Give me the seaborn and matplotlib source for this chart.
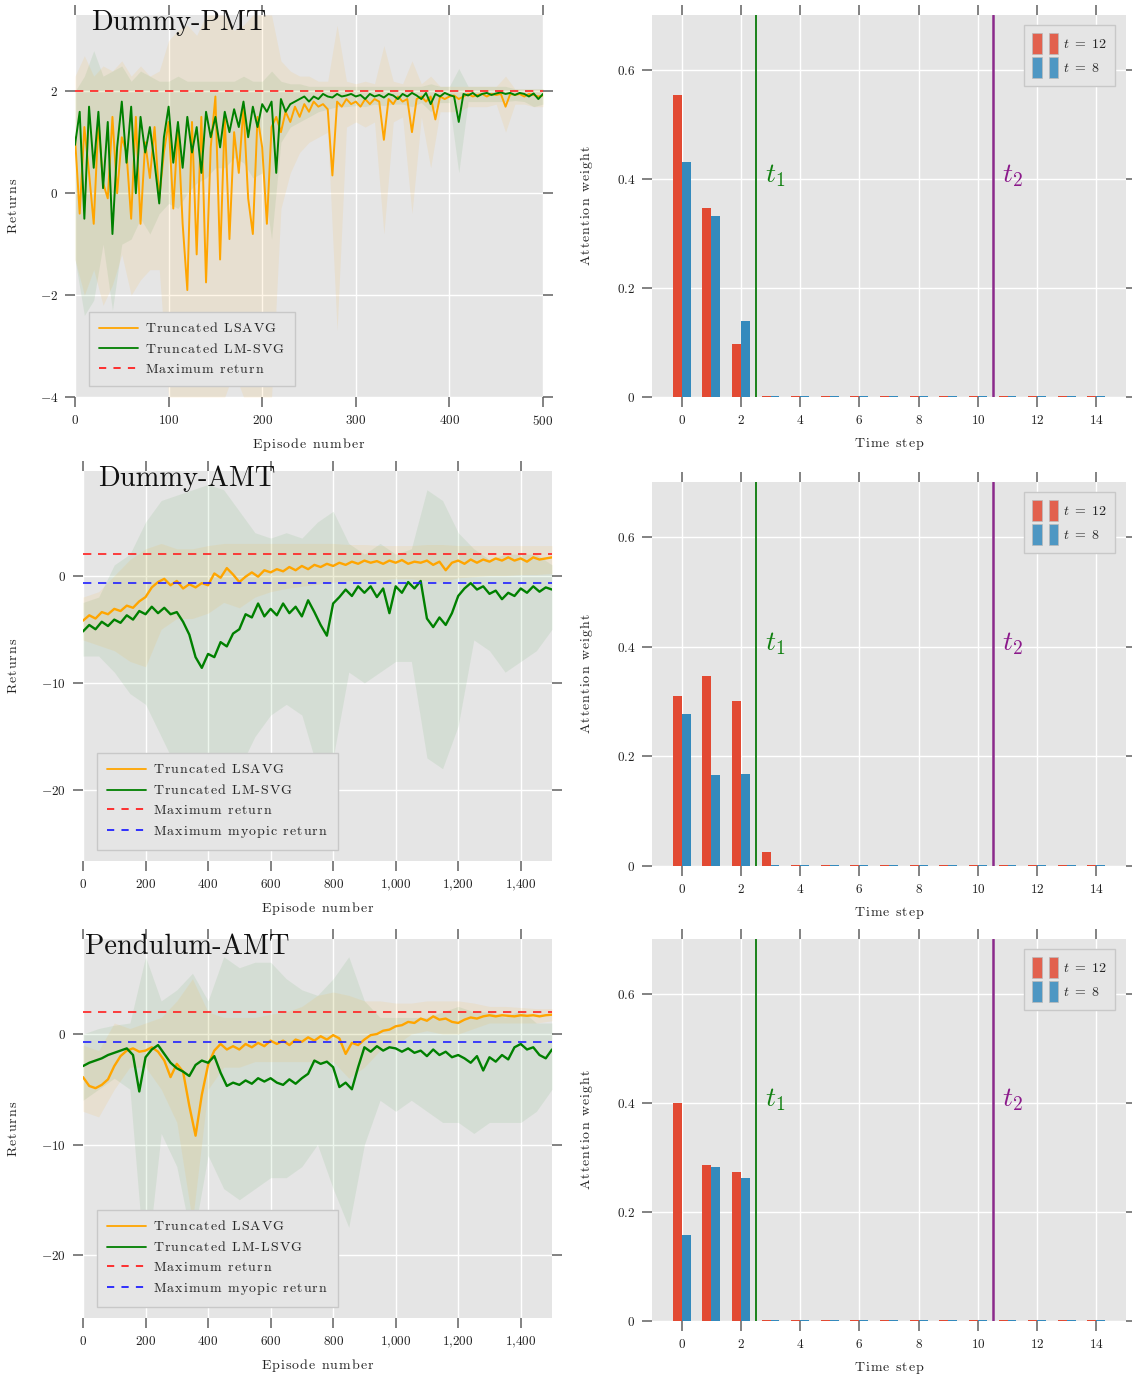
import numpy as np
import pandas as pd
import matplotlib
matplotlib.use("Agg")
import matplotlib.pyplot as plt
import seaborn as sns
from matplotlib.ticker import FuncFormatter, FixedLocator
from matplotlib.lines import Line2D
from matplotlib.patches import Rectangle
from matplotlib.legend_handler import HandlerTuple

# ---------------- data ----------------
# Dummy-PMT (episodes 0..500, mean every 5 episodes, band every 10)
pmt_step, pmt_band_step = 5, 10
pmt_lsavg = [1.1, -0.4, 1.3, 0.4, -0.6, 1.4, 0.2, -0.1, 1.5, 0.0,
             1.1, 0.8, -0.5, 1.5, -0.6, 1.0, 0.3, 1.3, -0.1, 0.8,
             1.4, -0.3, 1.3, -0.6, -1.9, 1.4, -1.2, 1.5, -1.75, 0.9,
             1.9, -1.3, 1.5, -0.9, 1.2, 0.4, 1.7, -0.1, -0.8, 1.5,
             0.9, -0.6, 1.3, 1.5, 1.2, 1.6, 1.4, 1.7, 1.5, 1.75,
             1.6, 1.8, 1.7, 1.75, 1.65, 0.35, 1.8, 1.7, 1.85, 1.75,
             1.8, 1.7, 1.85, 1.75, 1.85, 1.8, 1.05, 1.85, 1.75, 1.9,
             1.8, 1.85, 1.2, 1.85, 1.9, 1.8, 1.9, 1.45, 1.9, 1.85,
             1.9, 1.92, 1.85, 1.9, 1.95, 1.9, 1.93, 1.95, 1.9, 1.95,
             1.93, 1.95, 1.7, 1.95, 1.93, 1.95, 1.9, 1.95, 1.93, 1.9,
             1.92]
pmt_lmsvg = [0.95, 1.6, -0.5, 1.7, 0.5, 1.6, 0.1, 1.4, -0.8, 0.9,
             1.8, 0.6, 1.7, 0.0, 1.5, 0.8, 1.3, 0.6, -0.2, 1.1,
             1.7, 0.6, 1.4, 0.5, 1.5, 0.8, 1.3, 0.4, 1.6, 1.1,
             1.5, 0.9, 1.6, 1.2, 1.65, 1.3, 1.8, 1.1, 1.7, 1.3,
             1.75, 1.6, 1.8, 0.4, 1.85, 1.6, 1.75, 1.8, 1.85, 1.9,
             1.8, 1.9, 1.85, 1.95, 1.9, 1.88, 1.95, 1.9, 1.92, 1.95,
             1.9, 1.93, 1.85, 1.95, 1.9, 1.93, 1.88, 1.95, 1.92, 1.85,
             1.95, 1.9, 1.97, 1.92, 1.85, 1.97, 1.75, 1.95, 1.9, 1.97,
             1.93, 1.9, 1.4, 1.95, 1.92, 1.97, 1.9, 1.95, 1.97, 1.93,
             1.96, 1.98, 1.95, 1.97, 1.93, 1.97, 1.95, 1.9, 1.96, 1.85,
             1.95]
pmt_lsavg_lo = [-1.3, -2.0, -1.5, -2.2, -1.8, -1.2, -2.0, -1.7, -1.5, -1.5,
                -4, -4, -4, -4, -4, -4, -4, -3.5, -4, -4,
                -4, -4, -0.3, 0.4, 0.8, 1.0, 1.1, 1.2, -2.7, 1.3,
                1.4, 1.3, 1.4, -0.8, 1.4, 1.5, -0.4, 1.5, 0.5, 1.6,
                1.6, 1.6, 1.7, 1.7, 1.7, 1.75, 1.2, 1.75, 1.75, 1.7,
                1.7]
pmt_lsavg_hi = [2.3, 2.7, 2.3, 2.5, 2.4, 2.6, 2.3, 2.5, 2.3, 2.4,
                3.0, 3.2, 3.3, 3.1, 3.5, 3.5, 3.5, 3.2, 3.3, 3.5,
                3.5, 3.5, 2.6, 2.4, 2.3, 2.3, 2.2, 2.2, 3.3, 2.2,
                2.15, 2.2, 2.15, 2.9, 2.2, 2.15, 2.6, 2.15, 2.3, 2.1,
                2.1, 2.1, 2.1, 2.1, 2.1, 2.1, 2.3, 2.05, 2.05, 2.05,
                2.05]
pmt_lmsvg_lo = [-1.3, -2.4, -2.1, -1.0, -2.3, -1.0, -0.9, -0.5, -0.8, -0.4,
                -0.2, -0.3, 0.0, 0.2, 0.3, 0.5, 0.5, 0.7, 0.6, 0.3,
                0.4, -0.9, 1.0, 1.3, 1.4, 1.5, 1.6, 1.65, 1.7, 1.7,
                1.72, 1.7, 1.75, 1.72, 1.75, 1.75, 1.7, 1.78, 1.6, 1.78,
                1.78, 0.4, 1.8, 1.8, 1.8, 1.8, 1.8, 1.82, 1.8, 1.7,
                1.75]
pmt_lmsvg_hi = [2.0, 2.3, 2.8, 2.3, 2.4, 2.5, 2.2, 2.4, 2.3, 2.2,
                2.2, 2.3, 2.2, 2.2, 2.2, 2.2, 2.2, 2.2, 2.3, 2.2,
                2.2, 2.4, 2.2, 2.15, 2.15, 2.1, 2.1, 2.1, 2.1, 2.1,
                2.1, 2.1, 2.1, 2.1, 2.1, 2.1, 2.1, 2.1, 2.15, 2.1,
                2.1, 2.45, 2.1, 2.1, 2.1, 2.1, 2.1, 2.05, 2.05, 2.05,
                2.05]

# Dummy-AMT (episodes 0..1500, mean every 20, band every 50)
amt_step, amt_band_step = 20, 50
damt_lsavg = [-4.2, -3.7, -4.0, -3.4, -3.6, -3.1, -3.3, -2.8, -3.0, -2.4,
              -2.0, -1.1, -0.6, -0.3, -0.9, -0.5, -1.2, -0.8, -1.1, -0.7,
              -0.9, 0.2, -0.2, 0.7, 0.1, -0.6, -0.1, 0.3, -0.1, 0.5,
              0.3, 0.6, 0.4, 0.8, 0.5, 0.9, 0.6, 1.0, 0.8, 1.1,
              0.9, 1.2, 1.0, 1.3, 1.1, 1.4, 1.2, 1.35, 1.1, 1.4,
              1.2, 1.45, 1.1, 1.3, 1.2, 1.4, 1.0, 1.3, 0.5, 1.2,
              1.4, 1.1, 1.5, 1.2, 1.5, 1.3, 1.6, 1.4, 1.7, 1.4,
              1.6, 1.3, 1.7, 1.5, 1.6, 1.7]
damt_lmsvg = [-5.2, -4.6, -5.0, -4.3, -4.7, -4.1, -4.4, -3.7, -4.1, -3.3,
              -3.6, -2.9, -3.5, -3.0, -3.6, -3.4, -4.3, -5.5, -7.6, -8.6,
              -7.3, -7.6, -6.2, -6.6, -5.4, -5.0, -3.6, -3.9, -2.6, -3.8,
              -3.1, -3.7, -2.6, -3.5, -2.9, -3.8, -2.3, -3.4, -4.6, -5.6,
              -2.6, -2.0, -1.3, -1.9, -1.0, -1.6, -1.0, -2.0, -1.2, -3.5,
              -1.0, -1.6, -0.6, -1.2, -0.5, -4.0, -4.8, -3.9, -4.6, -3.5,
              -1.9, -1.2, -0.7, -1.3, -1.0, -1.7, -1.4, -2.2, -1.6, -1.9,
              -1.2, -1.6, -1.0, -1.5, -1.1, -1.3]
damt_lsavg_lo = [-6.0, -6.5, -7.0, -8.0, -8.5, -5.0, -4.0, -4.0, -3.5, -2.5,
                 -3.0, -2.0, -1.5, -1.2, -1.0, -0.8, -0.6, -0.5, -0.4, -0.4,
                 -0.3, -0.3, -0.5, -0.6, -0.2, -0.1, 0.0, 0.0, 0.1, 0.1, 0.2]
damt_lsavg_hi = [-2.0, -1.5, 0.0, 1.5, 2.5, 3.0, 2.5, 2.5, 2.8, 3.0,
                 3.0, 3.0, 3.0, 3.0, 3.0, 3.0, 3.0, 2.9, 2.9, 2.8,
                 2.8, 2.8, 2.9, 2.9, 2.8, 2.8, 2.8, 2.8, 2.8, 2.8, 2.8]
damt_lmsvg_lo = [-7.5, -7.5, -9.0, -11.0, -12.0, -15.0, -18.0, -24.0, -23.0, -20.0,
                 -18.0, -15.0, -13.0, -12.0, -13.0, -18.0, -17.0, -9.0, -10.0, -9.0,
                 -8.0, -8.0, -17.0, -18.0, -14.0, -6.0, -7.0, -9.0, -8.0, -7.0, -5.0]
damt_lmsvg_hi = [-2.5, -2.0, 1.0, 2.0, 5.0, 7.0, 7.5, 8.0, 8.5, 8.0,
                 6.0, 4.0, 3.5, 4.0, 3.5, 5.0, 6.0, 3.0, 2.0, 3.0,
                 2.0, 2.5, 8.0, 7.0, 4.0, 2.5, 1.5, 2.0, 2.0, 2.0, 1.0]

# Pendulum-AMT
pamt_lsavg = [-3.9, -4.7, -4.9, -4.6, -4.1, -2.9, -2.0, -1.5, -1.3, -1.6,
              -1.5, -1.2, -1.6, -2.4, -3.9, -2.7, -3.4, -6.5, -9.2, -5.5,
              -2.8, -1.5, -0.9, -1.4, -1.1, -1.4, -0.9, -1.2, -0.8, -1.1,
              -0.6, -0.9, -0.6, -1.0, -0.5, -0.7, -0.3, -0.6, -0.2, -0.5,
              -0.1, -0.4, -1.8, -0.8, -1.0, -0.5, -0.1, 0.0, 0.3, 0.4,
              0.7, 0.8, 1.1, 1.0, 1.4, 1.2, 1.6, 1.3, 1.4, 1.1,
              1.0, 1.3, 1.5, 1.4, 1.6, 1.7, 1.6, 1.7, 1.65, 1.6,
              1.7, 1.65, 1.7, 1.6, 1.7, 1.75]
pamt_lmlsvg = [-2.9, -2.6, -2.4, -2.2, -1.9, -1.7, -1.5, -1.3, -1.9, -5.2,
               -2.1, -1.4, -1.0, -1.8, -2.6, -3.1, -3.4, -3.8, -2.8, -2.4,
               -2.6, -2.0, -3.5, -4.7, -4.4, -4.6, -4.2, -4.5, -4.0, -4.3,
               -4.0, -4.4, -4.6, -4.1, -4.5, -4.0, -3.6, -2.4, -2.7, -2.5,
               -3.0, -4.8, -4.4, -5.0, -3.0, -1.2, -1.6, -1.1, -1.5, -1.2,
               -1.3, -1.6, -1.3, -1.7, -1.5, -2.0, -1.4, -1.9, -1.6, -2.1,
               -1.9, -2.2, -2.6, -2.0, -3.3, -2.1, -2.5, -1.9, -2.3, -1.2,
               -0.9, -1.4, -1.2, -1.9, -2.2, -1.4]
pamt_lsavg_lo = [-7, -7.5, -5, -3, -3, -5, -8, -17, -5, -3,
                 -3, -2.5, -2.5, -2.5, -2.5, -2.5, -2.5, -4, -3, -1.5,
                 -1, 0, 0.3, 0, 0, 0.5, 1, 1, 1, 1, 1.2]
pamt_lsavg_hi = [-1, -1.5, 1, 0.5, 1, 1.5, 3, 5, 2, 1.5,
                 1.5, 1.5, 1.8, 2, 2.5, 3.5, 3.8, 3.5, 3, 3,
                 2.8, 2.8, 3, 3, 3, 2.8, 2.5, 2.5, 2.4, 2.3, 2.3]
pamt_lmlsvg_lo = [-6, -5, -4, -5, -22, -9, -12, -19, -11, -14,
                  -15, -14, -13, -13, -12, -10, -14, -17.5, -10, -6,
                  -7, -6, -7, -8, -8, -9, -8, -8, -8, -7, -5]
pamt_lmlsvg_hi = [0, 0.5, 0.8, 1, 7, 3, 4, 5.5, 3, 7,
                  6, 6.5, 6.5, 5, 4, 3.5, 5, 7, 3, 1.5,
                  1.5, 1.5, 1.5, 2, 2.5, 2, 2, 1.5, 2.2, 1, 1]

max_return = 2.0
max_myopic_return = -0.68

# attention weights (time steps 0..14)
time_steps = list(range(15))
att_pmt_t12 = [0.553, 0.346, 0.098] + [0.002] * 12
att_pmt_t8 = [0.430, 0.332, 0.140] + [0.002] * 12
att_damt_t12 = [0.309, 0.346, 0.300, 0.025] + [0.002] * 11
att_damt_t8 = [0.277, 0.165, 0.167] + [0.002] * 12
att_pamt_t12 = [0.399, 0.286, 0.273] + [0.002] * 12
att_pamt_t8 = [0.158, 0.283, 0.262] + [0.002] * 12
t1_pos, t2_pos = 2.5, 10.5

# ---------------- style ----------------
sns.set_theme(style="darkgrid", rc={
    "axes.facecolor": "#e5e5e5",
    "grid.color": "white",
    "grid.linewidth": 1.0,
    "axes.edgecolor": "none",
})
plt.rcParams["font.family"] = ["cmr10", "DejaVu Serif"]
plt.rcParams["mathtext.fontset"] = "cm"
plt.rcParams["axes.unicode_minus"] = False
plt.rcParams["axes.formatter.use_mathtext"] = True

ORANGE, GREEN = "#FFA500", "#008000"
RED_BAR, BLUE_BAR = "#E24A33", "#348ABD"
W, H = 1132, 1378
LABEL_FS = 10
LEG_FS = 10


def box(x0, y0, x1, y1):
    return [x0 / W, 1 - y1 / H, (x1 - x0) / W, (y1 - y0) / H]


def spaced(s, gap=0.09):
    sep = r"\hspace{%g}" % gap

    def letter(c):
        return r"\text{-}" if c == "-" else c
    words = [sep.join(letter(c) for c in w) for w in s.split(" ")]
    return r"$\mathrm{" + (sep + r"\ " + sep).join(words) + "}$"


def tickfmt(v, pos):
    if abs(v - round(v)) < 1e-9:
        s = f"{int(round(v)):,}".replace(",", "{,}")
    else:
        s = f"{v:g}"
    return f"${s}$"


def style_axes(ax):
    ax.tick_params(which="both", direction="out", length=7, width=1.1,
                   color="#606060", top=True, right=True, bottom=True, left=True,
                   labeltop=False, labelright=False, labelsize=9.5,
                   labelcolor="#222222", pad=5)
    ax.xaxis.set_major_formatter(FuncFormatter(tickfmt))
    ax.yaxis.set_major_formatter(FuncFormatter(tickfmt))
    for s in ax.spines.values():
        s.set_visible(False)
    ax.grid(True, color="white", linewidth=1.0)
    ax.set_axisbelow(True)


fig = plt.figure(figsize=(W / 100, H / 100), dpi=100)

left_specs = [
    dict(rect=box(75, 15, 543, 397), title="Dummy-PMT", title_dx=16,
         mean_step=pmt_step, band_step=pmt_band_step,
         ls=pmt_lsavg, lm=pmt_lmsvg, ls_lo=pmt_lsavg_lo, ls_hi=pmt_lsavg_hi,
         lm_lo=pmt_lmsvg_lo, lm_hi=pmt_lmsvg_hi, lm_label="Truncated LM-SVG",
         xlim=(0, 500), ylim=(-4, 3.5), xticks=range(0, 501, 100),
         yticks=[-4, -2, 0, 2], myopic=False, lw=1.4),
    dict(rect=box(83, 471, 552, 861), title="Dummy-AMT", title_dx=15,
         mean_step=amt_step, band_step=amt_band_step,
         ls=damt_lsavg, lm=damt_lmsvg, ls_lo=damt_lsavg_lo, ls_hi=damt_lsavg_hi,
         lm_lo=damt_lmsvg_lo, lm_hi=damt_lmsvg_hi, lm_label="Truncated LM-SVG",
         xlim=(0, 1500), ylim=(-26.6, 9.75), xticks=range(0, 1401, 200),
         yticks=[-20, -10, 0], myopic=True, lw=1.7),
    dict(rect=box(83, 939, 552, 1318), title="Pendulum-AMT", title_dx=2,
         mean_step=amt_step, band_step=amt_band_step,
         ls=pamt_lsavg, lm=pamt_lmlsvg, ls_lo=pamt_lsavg_lo, ls_hi=pamt_lsavg_hi,
         lm_lo=pamt_lmlsvg_lo, lm_hi=pamt_lmlsvg_hi, lm_label="Truncated LM-LSVG",
         xlim=(0, 1500), ylim=(-25.7, 8.6), xticks=range(0, 1401, 200),
         yticks=[-20, -10, 0], myopic=True, lw=1.7),
]

for sp in left_specs:
    ax = fig.add_axes(sp["rect"])
    style_axes(ax)
    wpx = sp["rect"][2] * W
    hpx = sp["rect"][3] * H
    xb = np.arange(len(sp["ls_lo"])) * sp["band_step"]
    ax.fill_between(xb, sp["lm_lo"], sp["lm_hi"], color=GREEN, alpha=0.07, lw=0)
    ax.fill_between(xb, sp["ls_lo"], sp["ls_hi"], color=ORANGE, alpha=0.09, lw=0)
    xm = np.arange(len(sp["ls"])) * sp["mean_step"]
    sns.lineplot(x=xm, y=sp["ls"], ax=ax, color=ORANGE, linewidth=sp["lw"])
    xm2 = np.arange(len(sp["lm"])) * sp["mean_step"]
    sns.lineplot(x=xm2, y=sp["lm"], ax=ax, color=GREEN, linewidth=sp["lw"])
    ax.axhline(max_return, color="#FF2020", ls=(0, (5, 4)), lw=1.2)
    handles = [Line2D([], [], color=ORANGE, lw=1.3),
               Line2D([], [], color=GREEN, lw=1.3),
               Line2D([], [], color="#FF2020", lw=1.3, ls=(0, (4, 4)))]
    labels = [spaced("Truncated LSAVG"), spaced(sp["lm_label"]),
              spaced("Maximum return")]
    if sp["myopic"]:
        ax.axhline(max_myopic_return, color="#2020FF", ls=(0, (5, 4)), lw=1.2)
        handles.append(Line2D([], [], color="#2020FF", lw=1.3, ls=(0, (4, 4))))
        labels.append(spaced("Maximum myopic return"))
    ax.set_xlim(*sp["xlim"])
    ax.set_ylim(*sp["ylim"])
    ax.xaxis.set_major_locator(FixedLocator(list(sp["xticks"])))
    ax.yaxis.set_major_locator(FixedLocator(sp["yticks"]))
    ax.set_xlabel(spaced("Episode number"), fontsize=LABEL_FS, color="#222222")
    ax.set_ylabel(spaced("Returns"), fontsize=LABEL_FS, color="#222222")
    ax.xaxis.set_label_coords(0.5, -39 / hpx)
    ax.yaxis.set_label_coords(-(sp["rect"][0] * W - 20) / wpx, 0.5)
    ax.text(sp["title_dx"] / wpx, 1 + 5 / hpx, sp["title"], transform=ax.transAxes,
            fontsize=20.5, ha="left", va="top", color="#111111", family="cmr10")
    leg = ax.legend(handles, labels, loc="lower left",
                    bbox_to_anchor=(14 / wpx, 11 / hpx), borderaxespad=0,
                    fontsize=LEG_FS, handlelength=2.8, labelspacing=0.5,
                    frameon=True, fancybox=False, facecolor="#e5e5e5",
                    edgecolor="#c8c8c8", framealpha=1, borderpad=0.7,
                    handletextpad=0.55)
    leg.get_frame().set_linewidth(1.0)

right_specs = [
    dict(rect=box(652, 15, 1126, 397), t12=att_pmt_t12, t8=att_pmt_t8),
    dict(rect=box(652, 482, 1126, 866), t12=att_damt_t12, t8=att_damt_t8),
    dict(rect=box(652, 939, 1126, 1321), t12=att_pamt_t12, t8=att_pamt_t8),
]

for sp in right_specs:
    ax = fig.add_axes(sp["rect"])
    wpx = sp["rect"][2] * W
    hpx = sp["rect"][3] * H
    df = pd.DataFrame({
        "step": time_steps * 2,
        "weight": sp["t12"] + sp["t8"],
        "t": ["t = 12"] * len(time_steps) + ["t = 8"] * len(time_steps),
    })
    sns.barplot(data=df, x="step", y="weight", hue="t",
                hue_order=["t = 12", "t = 8"], palette=[RED_BAR, BLUE_BAR],
                native_scale=True, width=0.6, saturation=1, linewidth=0,
                legend=False, ax=ax)
    style_axes(ax)
    ax.axvline(t1_pos, color="#0a7a0a", lw=1.3)
    ax.axvline(t2_pos, color="#8b2a8b", lw=1.8)
    ax.text(t1_pos + 0.33, 0.405, r"$t_1$", color="#108010", fontsize=20,
            ha="left", va="center")
    ax.text(t2_pos + 0.33, 0.405, r"$t_2$", color="#8b1a8b", fontsize=20,
            ha="left", va="center")
    ax.set_xlim(-1, 15)
    ax.set_ylim(0, 0.7)
    ax.xaxis.set_major_locator(FixedLocator(list(range(0, 15, 2))))
    ax.yaxis.set_major_locator(FixedLocator([0, 0.2, 0.4, 0.6]))
    ax.set_xlabel(spaced("Time step"), fontsize=LABEL_FS, color="#222222")
    ax.set_ylabel(spaced("Attention weight"), fontsize=LABEL_FS, color="#222222")
    ax.xaxis.set_label_coords(0.5, -39 / hpx)
    ax.yaxis.set_label_coords(-57 / wpx, 0.5)
    h12 = (Rectangle((0, 0), 1, 1, facecolor=RED_BAR, alpha=0.85, edgecolor="#bbbbbb", lw=0.6),
           Rectangle((0, 0), 1, 1, facecolor=RED_BAR, alpha=0.85, edgecolor="#bbbbbb", lw=0.6))
    h8 = (Rectangle((0, 0), 1, 1, facecolor=BLUE_BAR, alpha=0.85, edgecolor="#bbbbbb", lw=0.6),
          Rectangle((0, 0), 1, 1, facecolor=BLUE_BAR, alpha=0.85, edgecolor="#bbbbbb", lw=0.6))
    leg = ax.legend([h12, h8], [r"$t\ =\ 12$", r"$t\ =\ 8$"],
                    handler_map={tuple: HandlerTuple(ndivide=None, pad=0.5)},
                    loc="upper right", bbox_to_anchor=(1 - 11 / wpx, 1 - 10 / hpx),
                    borderaxespad=0, fontsize=LEG_FS, handlelength=1.9,
                    handleheight=1.9, labelspacing=0.25, frameon=True,
                    fancybox=False, facecolor="#e5e5e5", edgecolor="#c8c8c8",
                    framealpha=1, borderpad=0.6, handletextpad=0.3)
    leg.get_frame().set_linewidth(1.0)

fig.savefig("out.png", dpi=100, facecolor="white")
